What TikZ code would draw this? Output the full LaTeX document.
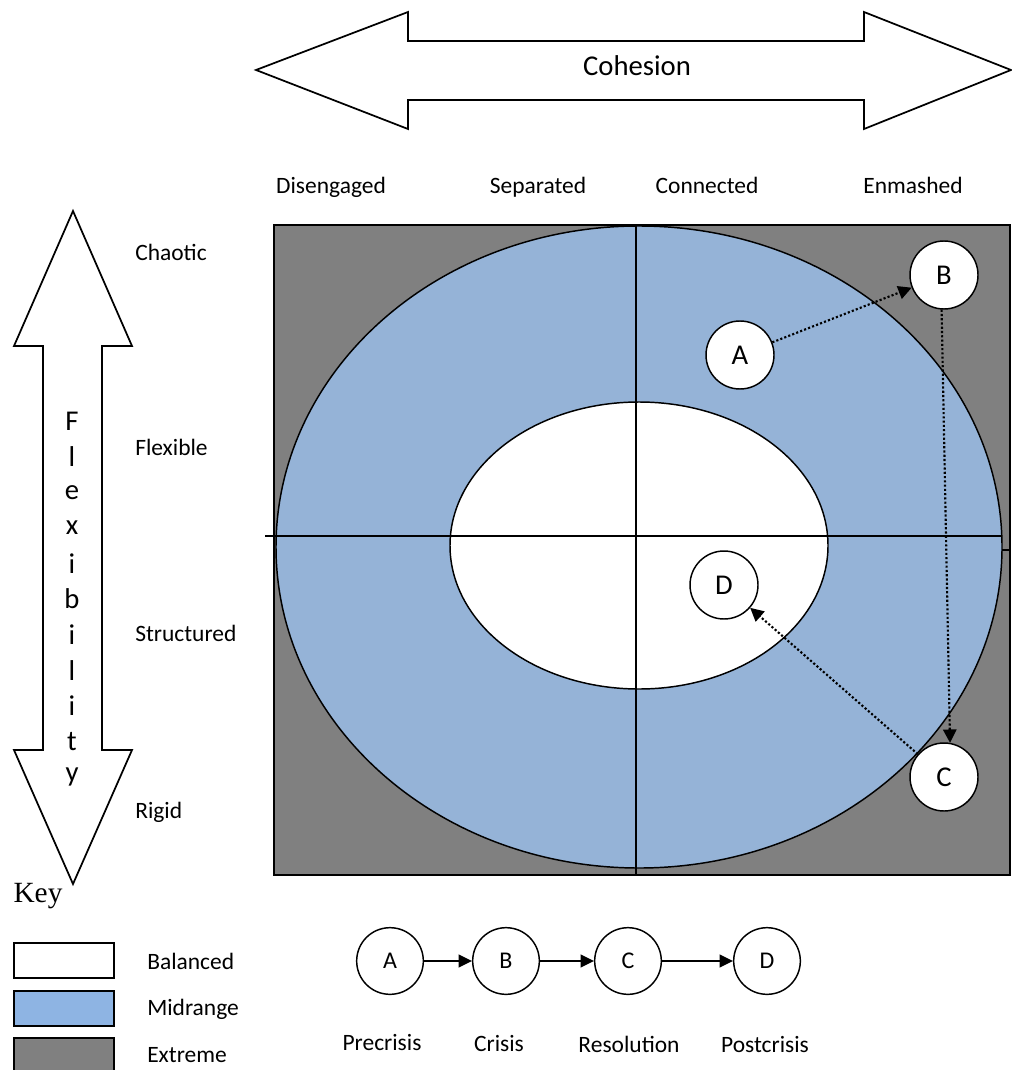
\documentclass[tikz,border=0pt]{standalone}
\usepackage{fontspec}
\setmainfont{Carlito}
\newfontfamily\keyfont{Liberation Serif}
\usetikzlibrary{arrows.meta}
\definecolor{midblue}{HTML}{95B3D7}
\definecolor{keyblue}{HTML}{8EB4E3}
\definecolor{extgray}{HTML}{808080}

\tikzset{
  lbl/.style={font=\fontsize{17.6}{20}\selectfont, inner sep=0pt,
    text height=13pt, text depth=2.5pt},
  bigtxt/.style={font=\fontsize{21.5}{24}\selectfont, inner sep=0pt},
  outline/.style={draw=black, line width=1.3pt, line join=miter},
  stage/.style={circle, draw=black, fill=white, line width=1.1pt,
    minimum size=51pt, inner sep=0pt, font=\fontsize{21.5}{24}\selectfont},
  seqstage/.style={circle, draw=black, fill=white, line width=1.1pt,
    minimum size=50pt, inner sep=0pt, font=\fontsize{18}{20}\selectfont},
  path/.style={line width=1.6pt, dash pattern=on 1.6pt off 1.6pt,
    -{Triangle[length=10pt,width=10pt]}},
  seqarrow/.style={line width=1.5pt, -{Triangle[length=10pt,width=9.5pt]}},
  keybox/.style={draw=black, line width=1.3pt},
}

\begin{document}
\begin{tikzpicture}[x=0.75pt,y=-0.75pt]
\useasboundingbox (0,0) rectangle (1011,1070);

% Cohesion double arrow
\draw[outline, fill=white] (256,70) -- (408,12) -- (408,41) -- (864,41) -- (864,12)
  -- (1011,70) -- (864,129) -- (864,100) -- (408,100) -- (408,129) -- cycle;
\node[bigtxt] (cohesion) at (637,66) {Cohesion};

% Flexibility double arrow
\draw[outline, fill=white] (73,211) -- (132,346) -- (102,346) -- (102,750) -- (132,750)
  -- (73,884) -- (14,750) -- (43,750) -- (43,346) -- (14,346) -- cycle;
\foreach \ch [count=\i from 0] in {F,l,e,x,i,b,i,l,i,t,y}
  \node[bigtxt] (flex\i) at (72,{421+35.6*\i}) {\ch};

% Cohesion levels
\node[lbl] (disengaged) at (331,186) {Disengaged};
\node[lbl] (separated) at (538,186) {Separated};
\node[lbl] (connected) at (707,186) {Connected};
\node[lbl] (enmeshed) at (913,186) {Enmashed};

% Flexibility levels
\node[lbl, anchor=west] (chaotic) at (135,253) {Chaotic};
\node[lbl, anchor=west] (flexible) at (135,448) {Flexible};
\node[lbl, anchor=west] (structured) at (135,634) {Structured};
\node[lbl, anchor=west] (rigid) at (135,811) {Rigid};

% Circumplex regions
\draw[fill=extgray, draw=black, line width=1.5pt] (274,225) rectangle (1010,875);
\draw[fill=midblue, draw=black, line width=1.1pt] (639,547) ellipse [x radius=363, y radius=321];
\draw[fill=white, draw=black, line width=1.1pt] (639,545.5) ellipse [x radius=189, y radius=143.5];

% Axes
\draw[line width=1.1pt] (636,225) -- (636,875);
\draw[line width=1.1pt] (265,536) -- (1002,536);
\draw[line width=1.1pt] (1002,550) -- (1011,550);

% Family path through the crisis
\node[stage] (A) at (740,355) {A};
\node[stage] (B) at (944,275) {B};
\node[stage] (C) at (944,777) {C};
\node[stage] (D) at (724,585) {D};
\draw[path] (A) -- (B);
\draw[path] (B.266) -- (C.80);
\draw[path] (C) -- (D);

% Key
\node[font=\keyfont\fontsize{22}{24}\selectfont, inner sep=0pt] (key) at (38,896) {Key};
\draw[keybox, fill=white] (14,943) rectangle (114,978);
\draw[keybox, fill=keyblue] (14,991) rectangle (114,1026);
\draw[keybox, fill=extgray] (14,1038) rectangle (114,1076);
\node[lbl, anchor=west] (balanced) at (147,962) {Balanced};
\node[lbl, anchor=west] (midrange) at (147,1008) {Midrange};
\node[lbl, anchor=west] (extreme) at (147,1055) {Extreme};

% Crisis sequence
\node[seqstage] (sA) at (390,961) {A};
\node[seqstage] (sB) at (506,961) {B};
\node[seqstage] (sC) at (628,961) {C};
\node[seqstage] (sD) at (767,961) {D};
\draw[seqarrow] (sA) -- (sB);
\draw[seqarrow] (sB) -- (sC);
\draw[seqarrow] (sC) -- (sD);
\node[lbl] (precrisis) at (382,1043) {Precrisis};
\node[lbl] (crisis) at (499,1044) {Crisis};
\node[lbl] (resolution) at (629,1045) {Resolution};
\node[lbl] (postcrisis) at (765,1045) {Postcrisis};
\end{tikzpicture}
\end{document}
